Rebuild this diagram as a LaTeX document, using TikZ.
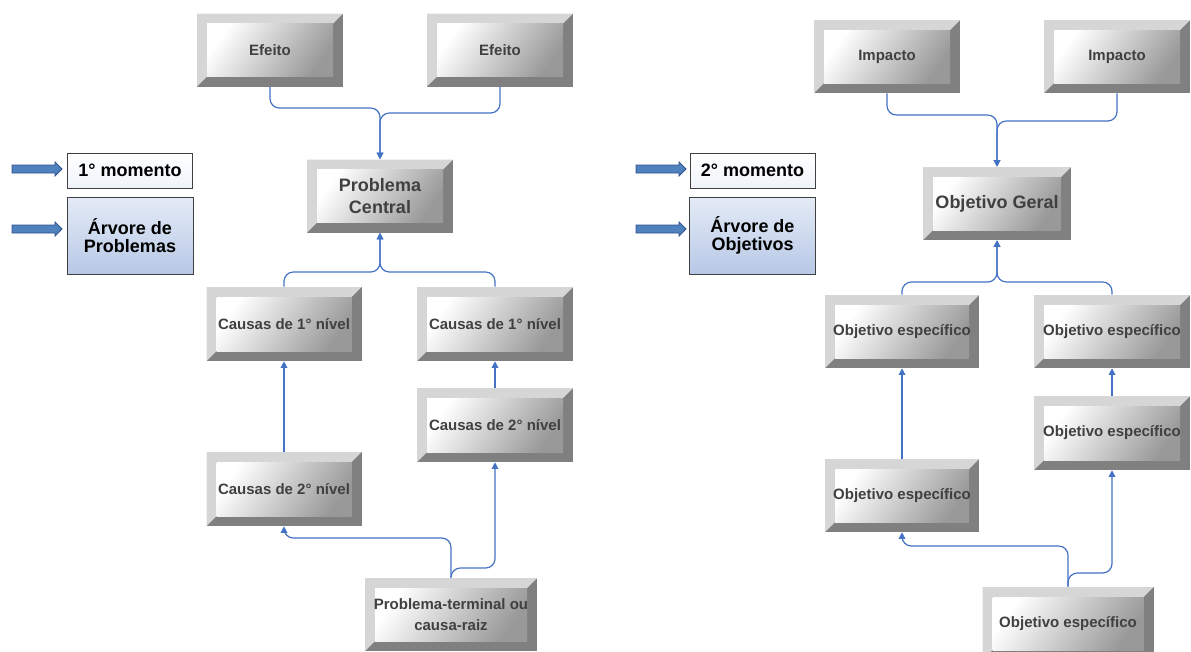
\documentclass[tikz,border=0pt]{standalone}
\usepackage{fontspec}
\setmainfont{Liberation Sans}
\usetikzlibrary{arrows.meta}

\definecolor{bvlight}{HTML}{D6D6D6}
\definecolor{bvdark}{HTML}{808080}
\definecolor{bvtext}{HTML}{404040}
\definecolor{linkblue}{HTML}{4472C4}
\definecolor{arrowblue}{HTML}{4F81BD}
\definecolor{arrowedge}{HTML}{2F528F}
\definecolor{paneltop}{HTML}{E4EBF6}
\definecolor{panelbot}{HTML}{B7C8E6}

\begin{document}
\begin{tikzpicture}[
  x=0.75pt, y=-0.75pt,
  bevel box/.style={
    fill=bvdark, inner sep=2pt, align=center, text=bvtext,
    font=\fontsize{11.25}{15.5}\selectfont\bfseries,
    minimum width=109.5pt, minimum height=54.75pt,
    path picture={
      % light bevel on top and left
      \fill[bvlight] (path picture bounding box.north west)
        -- (path picture bounding box.north east)
        -- ([shift={(-7.5pt,-7.5pt)}]path picture bounding box.north east)
        -- ([shift={(7.5pt,-7.5pt)}]path picture bounding box.north west)
        -- ([shift={(7.5pt,7.5pt)}]path picture bounding box.south west)
        -- (path picture bounding box.south west) -- cycle;
      % shaded face
      \shade[top color=white, bottom color=black!40, shading angle=55]
        ([shift={(7.5pt,-7.5pt)}]path picture bounding box.north west)
        rectangle ([shift={(-7.5pt,7.5pt)}]path picture bounding box.south east);
    }
  },
  box size/.style 2 args={minimum width=#1, minimum height=#2},
  big text/.style={font=\fontsize{13.5}{16.25}\selectfont\bfseries},
  panel/.style={draw=black!75, line width=0.6pt, align=center, inner sep=2pt,
    font=\fontsize{13.5}{13.5}\selectfont\bfseries},
  block arrow/.style={fill=arrowblue, draw=arrowedge, line width=0.6pt},
  conn/.style={draw=linkblue, line width=0.9pt, rounded corners=7pt,
    -{Triangle[length=5pt,width=5pt]}}
  ]

  \useasboundingbox (0,0) rectangle (1191,651);

  % problem tree
  \node[bevel box] (ef1) at (270,50) {Efeito};
  \node[bevel box] (ef2) at (500,50) {Efeito};
  \node[bevel box, big text] (pc) at (380,196) {Problema\\Central};
  \node[bevel box, box size={116.25pt}{55.5pt}] (c1l) at (284,324) {Causas de 1° nível};
  \node[bevel box, box size={117pt}{55.5pt}] (c1r) at (495,324) {Causas de 1° nível};
  \node[bevel box, box size={117pt}{55.5pt}] (c2r) at (495,425) {Causas de 2° nível};
  \node[bevel box, box size={116.25pt}{55.5pt}] (c2l) at (284,489) {Causas de 2° nível};
  \node[bevel box, box size={129pt}{54.75pt}] (term) at (451,614.5) {Problema-terminal ou\\causa-raiz};

  \draw[conn] (ef1.south) |- (380,108) -- (pc.north);
  \draw[conn] (ef2.south) |- (380,113) -- (pc.north);
  \draw[conn] (c1l.north) |- (380,272) -- (pc.south);
  \draw[conn] (c1r.north) |- (380,272) -- (pc.south);
  \draw[conn] (c2l.north) -- (c1l.south);
  \draw[conn] (c2r.north) -- (c1r.south);
  \draw[conn] (term.north) |- (284,538) -- (c2l.south);
  \draw[conn] (term.north) |- (495,568) -- (c2r.south);

  % objective tree
  \node[bevel box] (imp1) at (887,56.5) {Impacto};
  \node[bevel box] (imp2) at (1117,56.5) {Impacto};
  \node[bevel box, big text, box size={111pt}{54.75pt}] (og) at (997,203.5) {Objetivo Geral};
  \node[bevel box, box size={115.5pt}{54.75pt}] (oe1) at (902,331.5) {Objetivo específico};
  \node[bevel box, box size={117pt}{54.75pt}] (oe2) at (1112,331.5) {Objetivo específico};
  \node[bevel box, box size={117pt}{55.5pt}] (oe3) at (1112,433) {Objetivo específico};
  \node[bevel box, box size={115.5pt}{54.75pt}] (oe4) at (902,495.5) {Objetivo específico};
  \node[bevel box, box size={128.25pt}{54.75pt}] (oe5) at (1068,623.5) {Objetivo específico};

  \draw[conn] (imp1.south) |- (997,115) -- (og.north);
  \draw[conn] (imp2.south) |- (997,121) -- (og.north);
  \draw[conn] (oe1.north) |- (997,282) -- (og.south);
  \draw[conn] (oe2.north) |- (997,282) -- (og.south);
  \draw[conn] (oe4.north) -- (oe1.south);
  \draw[conn] (oe3.north) -- (oe2.south);
  \draw[conn] (oe5.north) |- (902,546) -- (oe4.south);
  \draw[conn] (oe5.north) |- (1112,573) -- (oe3.south);

  % side labels
  \node[panel, top color=white, bottom color=paneltop!60, box size={93.75pt}{26.25pt}] (mom1) at (130,170.5) {1° momento};
  \node[panel, top color=paneltop, bottom color=panelbot, box size={94.5pt}{57.75pt}] (arv1) at (130,235.5) {Árvore de\\Problemas};
  \node[panel, top color=white, bottom color=paneltop!60, box size={93.75pt}{26.25pt}] (mom2) at (752.5,170.5) {2° momento};
  \node[panel, top color=paneltop, bottom color=panelbot, box size={94.5pt}{57.75pt}] (arv2) at (752.5,235.5) {Árvore de\\Objetivos};

  \foreach \ax/\ay in {12/169, 12/229, 636/169, 636/229}
    \draw[block arrow] (\ax,\ay-4) -- ++(43,0) -- ++(0,-3) -- ++(7,7)
      -- ++(-7,7) -- ++(0,-3) -- ++(-43,0) -- cycle;
\end{tikzpicture}
\end{document}
